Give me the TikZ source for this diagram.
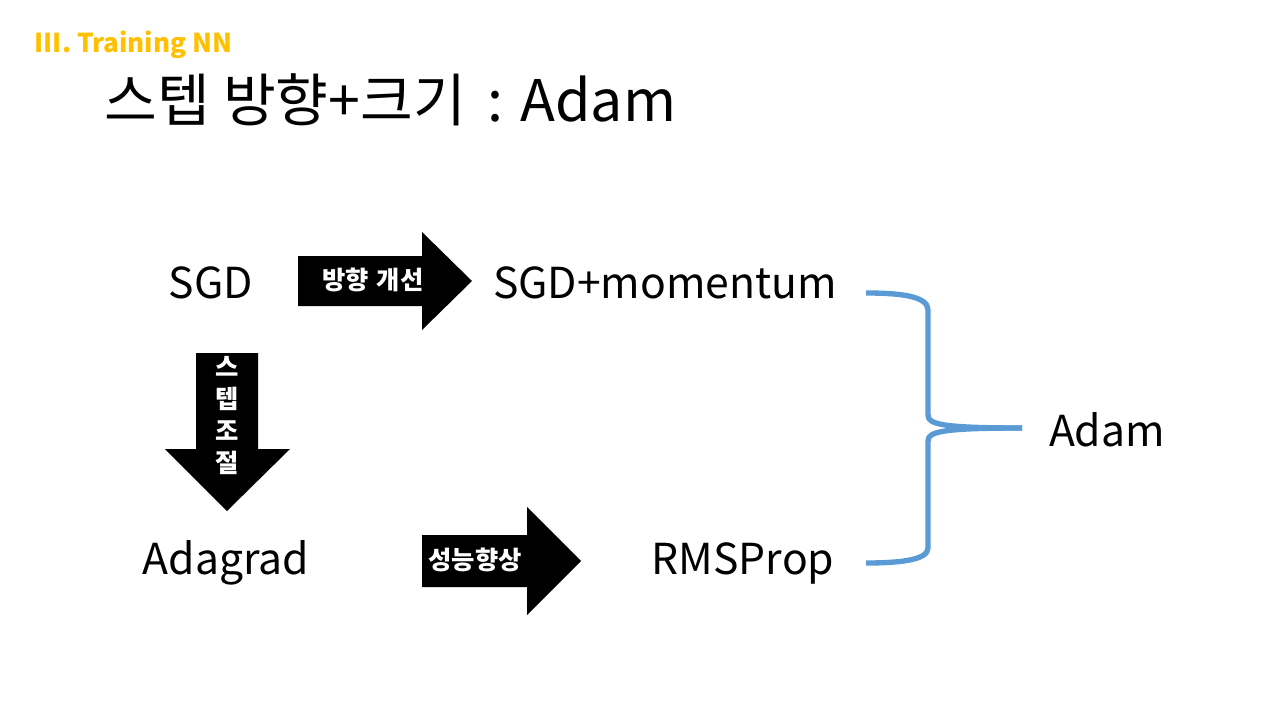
\documentclass[tikz,border=0pt]{standalone}
\usepackage{fontspec}
\setmainfont{Noto Sans CJK KR}
\definecolor{gold}{HTML}{FFC000}
\definecolor{braceblue}{HTML}{5B9BD5}
\tikzset{
  term/.style={font=\fontsize{32}{38}\selectfont},
  tag/.style={text=white,font=\bfseries\fontsize{19}{23}\selectfont},
  fatarrow/.style={fill=black},
  brace/.style={draw=braceblue,line width=4pt,line join=round}
}
\begin{document}
\begin{tikzpicture}[x=0.75pt,y=-0.75pt]
\useasboundingbox (0,0) rectangle (1280,720);
\node[anchor=west,text=gold,font=\bfseries\fontsize{19.5}{23}\selectfont] (sec) at (30,45) {III. Training NN};
\node[anchor=west,font=\fontsize{43}{52}\selectfont] (title) at (100,100) {스텝 방향+크기\hspace{0.15em} : Adam};
\node[term] (sgd) at (211,283) {SGD};
\node[term] (mom) at (665,283) {SGD+momentum};
\node[term] (ada) at (226,563) {Adagrad};
\node[term] (rms) at (743,563) {RMSProp};
\node[term] (adam) at (1107,430) {Adam};
\fill[fatarrow] (298,256) -- (422,256) -- (422,232) -- (472,281) -- (422,330) -- (422,306) -- (298,306) -- cycle;
\node[tag] (dir) at (373,280) {방향\hspace{0.3em}개선};
\fill[fatarrow] (196,353) -- (258,353) -- (258,449) -- (290,449) -- (227,511) -- (165,449) -- (196,449) -- cycle;
\node[tag,align=center,font=\bfseries\fontsize{19}{24}\selectfont] (stp) at (227,416) {스\\텝\\조\\절};
\fill[fatarrow] (422,535) -- (527,535) -- (527,507) -- (581,561) -- (527,615) -- (527,587) -- (422,587) -- cycle;
\node[tag] (perf) at (475,560) {성능향상};
\coordinate (top) at (866,293);
\coordinate (bot) at (866,563);
\coordinate (tip) at (1022,428);
\draw[brace] (top) .. controls (900,293) and (928,296) .. (928,310) -- (928,415)
  .. controls (928,424) and (940,428) .. (tip);
\draw[brace] (tip) .. controls (940,428) and (928,432) .. (928,441) -- (928,548)
  .. controls (928,560) and (900,563) .. (bot);
\end{tikzpicture}
\end{document}
